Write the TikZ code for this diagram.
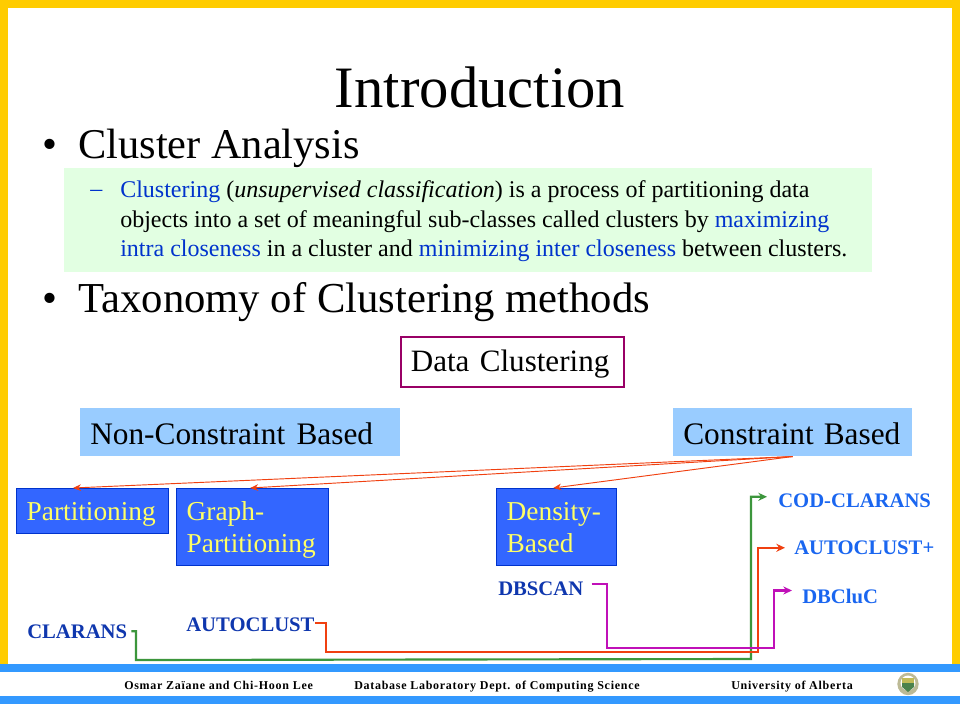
\documentclass[tikz,border=0pt]{standalone}
\usepackage{fontspec}
\setmainfont{Liberation Serif}
\newfontfamily\footfont[LetterSpace=6]{Liberation Serif}
\usepackage{tikz}
\usetikzlibrary{arrows.meta}

\definecolor{framegold}{HTML}{FFCC00}
\definecolor{bandblue}{HTML}{3399FF}
\definecolor{palegreen}{HTML}{E2FFE2}
\definecolor{paleblue}{HTML}{99CCFF}
\definecolor{boxblue}{HTML}{3366FF}
\definecolor{boxedge}{HTML}{0033CC}
\definecolor{boxtext}{HTML}{FFFF66}
\definecolor{keyblue}{HTML}{0033CC}
\definecolor{algodark}{HTML}{0F37AE}
\definecolor{algolight}{HTML}{1A66F0}
\definecolor{rootedge}{HTML}{990066}
\definecolor{linered}{HTML}{F04010}
\definecolor{linegreen}{HTML}{3C963C}
\definecolor{linepurple}{HTML}{C010B8}

\tikzset{
  heading/.style = {anchor=base west, inner sep=0pt, font=\fontsize{32}{32}\selectfont},
  branchbox/.style = {anchor=north west, fill=paleblue, inner xsep=7.5pt, inner ysep=0pt, minimum height=36pt,
    text height=18.8pt, text depth=0pt, align=left, font=\fontsize{23.5}{28}\selectfont},
  methodbox/.style = {anchor=north west, fill=boxblue, draw=boxedge, line width=1.1pt, text=boxtext,
    text width=99pt, align=left, inner xsep=7.5pt, inner ysep=0pt, font=\fontsize{20.5}{24}\selectfont,
    execute at begin node=\rule{0pt}{23.5pt},
    execute at end node=\rule[-10pt]{0pt}{0pt}},
  algodk/.style = {anchor=base west, inner sep=0pt, text=algodark, font=\bfseries\fontsize{15.5}{16}\selectfont},
  algolt/.style = {anchor=base west, inner sep=0pt, text=algolight, font=\bfseries\fontsize{15.5}{16}\selectfont},
  footnote/.style = {anchor=base west, inner sep=0pt, font=\footfont\bfseries\fontsize{9}{10}\selectfont},
  treeline/.style = {-{Stealth[length=6pt,width=5pt]}, color=linered, line width=0.7pt},
  linkline/.style = {-{Stealth[length=6.5pt,width=6pt]}, line width=1.6pt}
}

\begin{document}
\begin{tikzpicture}[x=0.75pt, y=-0.75pt]
  \useasboundingbox (0,0) rectangle (960,720);

  % frame and footer bands
  \fill[white] (0,0) rectangle (960,720);
  \fill[framegold] (0,0) rectangle (960,8);
  \fill[framegold] (0,0) rectangle (8,664);
  \fill[framegold] (952,0) rectangle (960,664);
  \fill[bandblue] (0,664) rectangle (960,672);
  \fill[bandblue] (0,696) rectangle (960,704);
  \fill[palegreen] (64,168) rectangle (872,272);

  % headings
  \node[anchor=base, inner sep=0pt, font=\fontsize{44}{44}\selectfont] (title) at (480,108) {Introduction};
  \node[heading] (bulletA) at (42,159) {•};
  \node[heading, font=\fontsize{31.8}{32}\selectfont] (analysis) at (78,159) {Cluster Analysis};
  \node[heading] (bulletB) at (42,312) {•};
  \node[heading] (taxonomy) at (78,312) {Taxonomy of Clustering methods};

  % definition
  \node[anchor=base west, inner sep=0pt, text=keyblue, font=\fontsize{18}{22}\selectfont] (dash) at (90,197) {--};
  \node[anchor=north west, inner sep=0pt, align=left, font=\fontsize{18}{22.1}\selectfont] (definition) at (120,180.5)
    {\textcolor{keyblue}{Clustering} (\textit{unsupervised classification}) is a process of partitioning data\\
     objects into a set of meaningful sub-classes called clusters by \textcolor{keyblue}{maximizing}\\
     \textcolor{keyblue}{intra closeness} in a cluster and \textcolor{keyblue}{minimizing inter closeness} between clusters.};

  % taxonomy boxes
  \node[anchor=north west, draw=rootedge, line width=1.3pt, text width=152.5pt, inner xsep=7.5pt, inner ysep=0pt,
    minimum height=37.5pt, text height=20pt, text depth=5pt, align=left,
    font=\fontsize{23.3}{28}\selectfont] (root) at (400,336) {Data Clustering};
  \node[branchbox, text width=225pt] (nonconstraint) at (80,408) {Non-Constraint\hspace{8.5pt}Based};
  \node[branchbox, text width=164pt] (constraint) at (673,408) {Constraint\hspace{7.5pt}Based};
  \node[methodbox] (partitioning) at (16,488) {Partitioning};
  \node[methodbox] (graph) at (176,488) {Graph-\\Partitioning};
  \node[methodbox, text width=75pt] (density) at (496,488) {Density-\\Based};

  % algorithms
  \node[algodk] (clarans) at (27,638) {CLARANS};
  \node[algodk] (autoclust) at (186,631) {AUTOCLUST};
  \node[algodk] (dbscan) at (498,595) {DBSCAN};
  \node[algolt] (codclarans) at (778,507) {COD-CLARANS};
  \node[algolt] (autoclustplus) at (794,554) {AUTOCLUST+};
  \node[algolt] (dbcluc) at (802,603) {DBCluC};

  % footer
  \node[footnote] (authors) at (124,689.5) {Osmar Zaïane and Chi-Hoon Lee};
  \node[footnote] (lab) at (354,689.5) {Database Laboratory\hspace{2.8pt}Dept. of Computing Science};
  \node[footnote] (univ) at (731,689.5) {University of Alberta};

  % crest
  \fill[black!25!white!80!olive] (908,684) ellipse (8pt and 8.4pt);
  \fill[white] (908,683) circle (5.6pt);
  \fill[olive!55!white] (902,678) rectangle (914,683);
  \fill[green!30!black!70!white] (902,683) -- (914,683) -- (914,687) -- (908,692) -- (902,687) -- cycle;

  % tree lines
  \coordinate (parttip) at (73,488);
  \path[treeline]
    (constraint.south) edge (parttip)
    (constraint.south) edge ([xshift=-1.9pt]graph.north)
    (constraint.south) edge ([xshift=-2.6pt]density.north);

  % bends of the links
  \coordinate (clarA) at (136,660);
  \coordinate (clarB) at (751,659);
  \coordinate (autoA) at (326,652);
  \coordinate (autoB) at (758,652);
  \coordinate (dbscA) at (607,648);
  \coordinate (dbscB) at (774,648);

  \draw[linkline, color=linegreen] ([xshift=3pt]clarans.east) -| (clarA) -- (clarB)
    |- ([xshift=-8.25pt,yshift=2.6pt]codclarans.west);
  \draw[linkline, color=linered] ([yshift=1.1pt]autoclust.east) -| (autoA) -- (autoB)
    |- ([xshift=-6.75pt,yshift=-0.4pt]autoclustplus.west);
  \draw[linkline, color=linepurple] ([xshift=6pt,yshift=3.1pt]dbscan.east) -| (dbscA) -- (dbscB)
    |- ([xshift=-7.5pt,yshift=4.1pt]dbcluc.west);
\end{tikzpicture}
\end{document}
